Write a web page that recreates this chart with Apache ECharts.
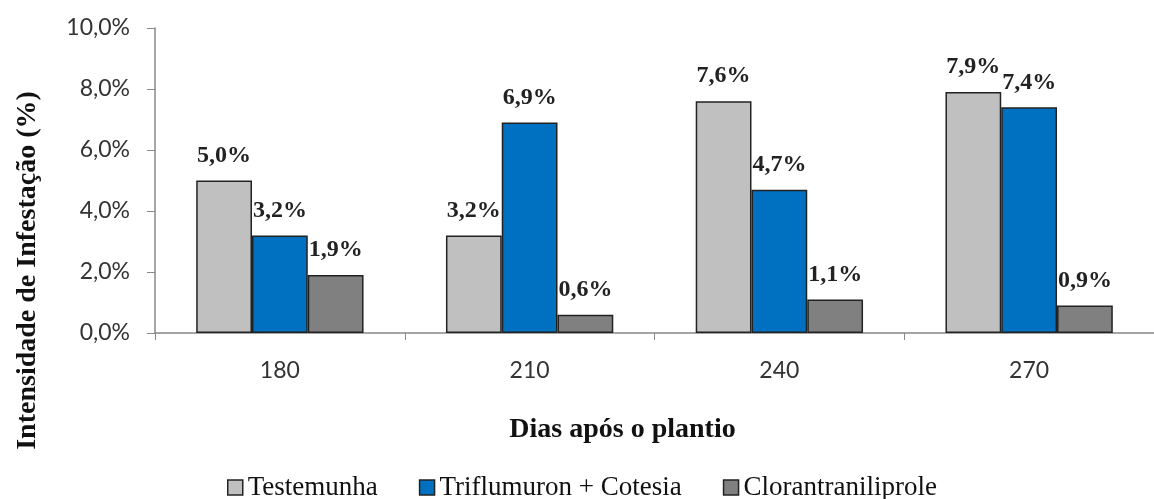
<!DOCTYPE html>
<html><head><meta charset="utf-8">
<script src="https://cdn.jsdelivr.net/npm/echarts@6/dist/echarts.min.js"></script>
<style>html,body{margin:0;padding:0;background:#fff}#c{width:1154px;height:499px}</style>
</head><body><div id="c"></div>
<script>
const categories = ['180', '210', '240', '270'];
const testemunha = [5.0, 3.2, 7.6, 7.9];
const triflumuron = [3.2, 6.9, 4.7, 7.4];
const cloran = [1.9, 0.6, 1.1, 0.9];
const seriesNames = ['Testemunha', 'Triflumuron + Cotesia', 'Clorantraniliprole'];

const fmt = v => v.toFixed(1).replace('.', ',') + '%';
const serif = '"Liberation Serif", "Times New Roman", serif';
const sans = 'Lato, "Liberation Sans", sans-serif';
const colors = ['#C0C0C0', '#0070C0', '#808080'];
const lbl = {show: true, position: 'top', distance: 13, formatter: p => fmt(p.value),
  fontFamily: serif, fontWeight: 'bold', fontSize: 24, color: '#222'};
const mk = (name, data, i) => ({
  name, type: 'bar', data, barGap: '0%', barCategoryGap: '33%',
  itemStyle: {color: colors[i], borderColor: '#222', borderWidth: 1.5},
  label: lbl
});
const chart = echarts.init(document.getElementById('c'), null, {renderer: 'canvas'});
chart.setOption({
  animation: false,
  grid: {left: 155, top: 28, width: 1008, height: 305},
  legend: {
    top: 469, left: 222, itemGap: 41, itemWidth: 15, itemHeight: 15, icon: 'rect',
    textStyle: {fontFamily: serif, fontSize: 27, color: '#111'},
    itemStyle: {borderColor: '#222', borderWidth: 1.5},
    data: seriesNames
  },
  xAxis: {
    type: 'category', data: categories,
    axisLine: {lineStyle: {color: '#888', width: 1.5}},
    axisTick: {show: true, length: 7, lineStyle: {color: '#888'}},
    axisLabel: {margin: 26, fontFamily: sans, fontSize: 23, color: '#333'},
    name: 'Dias após o plantio', nameLocation: 'middle', nameGap: 83,
    nameTextStyle: {fontFamily: serif, fontWeight: 'bold', fontSize: 28, color: '#111', padding: [0, 64, 0, 0]}
  },
  yAxis: {
    type: 'value', min: 0, max: 10, interval: 2,
    splitLine: {show: false},
    axisLine: {show: true, lineStyle: {color: '#888', width: 1.5}},
    axisTick: {show: true, length: 8, lineStyle: {color: '#888'}},
    axisLabel: {margin: 25, fontFamily: sans, fontSize: 23, color: '#333', formatter: v => fmt(v)},
    name: 'Intensidade de Infestação (%)', nameLocation: 'middle', nameGap: 113, nameRotate: 90,
    nameTextStyle: {fontFamily: serif, fontWeight: 'bold', fontSize: 28, color: '#111', padding: [0, 180, 0, 0]}
  },
  series: [mk(seriesNames[0], testemunha, 0), mk(seriesNames[1], triflumuron, 1), mk(seriesNames[2], cloran, 2)]
});
</script></body></html>
